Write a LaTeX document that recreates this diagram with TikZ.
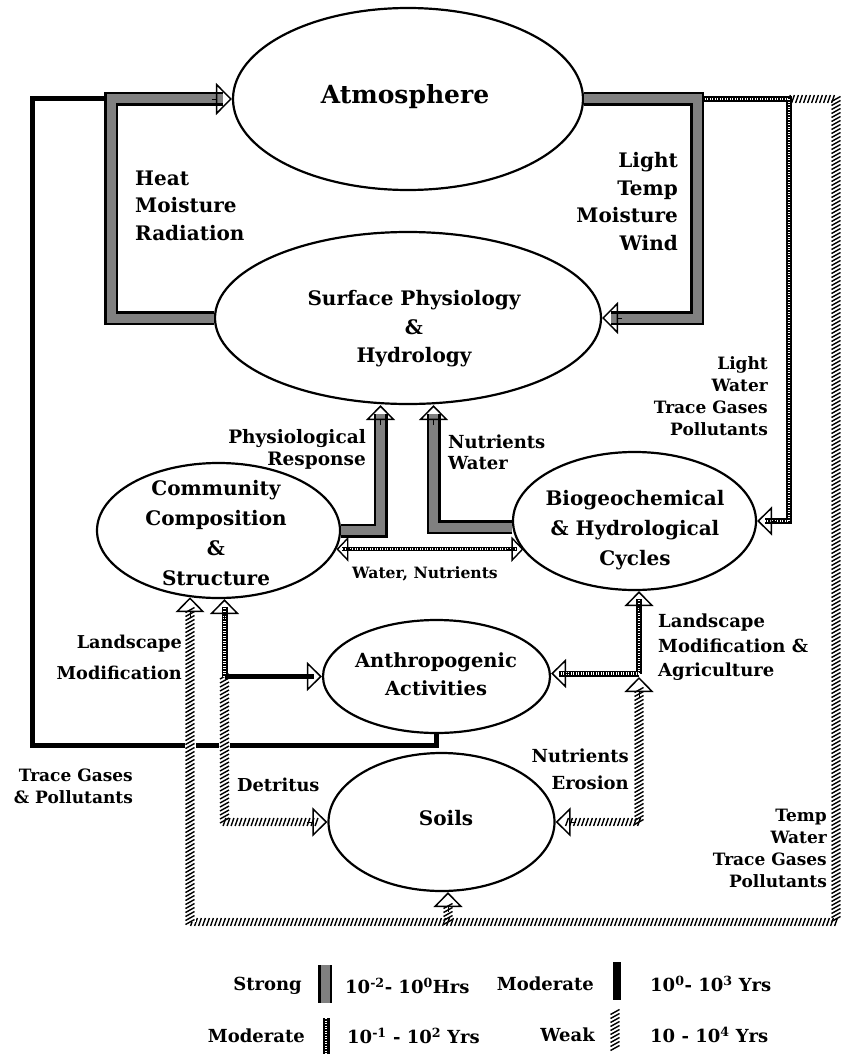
\documentclass[tikz,border=0pt]{standalone}
\usepackage{fontspec}
\setmainfont{DejaVu Serif}
\usetikzlibrary{shapes.geometric, arrows.meta, decorations.markings, calc}
\begin{document}
\begin{tikzpicture}[x=1pt,y=-1pt,
  ell/.style={ellipse, draw, line width=2.2pt, inner sep=0pt},
  big/.style={font=\fontsize{20}{29}\selectfont\bfseries, align=center, inner sep=0pt},
  mid/.style={font=\fontsize{20}{27.5}\selectfont\bfseries, inner sep=0pt},
  lab/.style={font=\fontsize{17}{22}\selectfont\bfseries, inner sep=0pt},
  leg/.style={font=\fontsize{18}{20}\selectfont\bfseries, inner sep=0pt},
  strong/.style={line width=2.5pt, double=black!50, double distance=9pt, line join=miter},
  modsolid/.style={line width=5pt, line join=miter},
  ladder/.style={line width=6pt, postaction={draw=white, line width=2.6pt, dash pattern=on 0.8pt off 1.7pt}},
  wgap/.style={preaction={draw=white, line width=11pt}},
  weakh/.style={postaction={decorate, decoration={markings, mark=between positions 0 and 1 step 4pt with {\draw[line width=1.4pt] (-1.4pt,-4pt) -- (1.4pt,4pt);}}}},
  weakv/.style={postaction={decorate, decoration={markings, mark=between positions 0 and 1 step 4pt with {\draw[line width=1.4pt] (-2.5pt,4.5pt) -- (2.5pt,-4.5pt);}}}},
  tipo/.style={line width=0.1pt, -{Triangle[open, length=15pt, width=29pt, line width=1.5pt]}},
  tipbig/.style={line width=0.1pt, -{Triangle[open, length=16pt, width=32pt, line width=1.5pt]}},
  tipsm/.style={line width=0.1pt, -{Triangle[open, length=12pt, width=25pt, line width=1.4pt]}},
]
\useasboundingbox (0,0) rectangle (842,1054);

% ellipses
\node[ell, minimum width=350pt, minimum height=182pt] (atm) at (408,99) {};
\node[ell, minimum width=386pt, minimum height=172pt] (surf) at (408,318) {};
\node[ell, minimum width=243pt, minimum height=135pt] (comm) at (218.5,530.5) {};
\node[ell, minimum width=243pt, minimum height=138pt] (bio) at (634.5,521) {};
\node[ell, minimum width=227pt, minimum height=113pt] (anth) at (436.5,676.5) {};
\node[ell, minimum width=226pt, minimum height=138pt] (soil) at (441.5,822) {};

\node[big, font=\fontsize{25}{29}\selectfont\bfseries] (atmt) at (405,97) {Atmosphere};
\node[big, font=\fontsize{20}{28.5}\selectfont\bfseries] (surft) at (414,329) {Surface Physiology\\\&\\Hydrology};
\node[big, font=\fontsize{20}{29.7}\selectfont\bfseries] (commt) at (216,533) {Community\\Composition\\\&\\Structure};
\node[big, font=\fontsize{20}{30}\selectfont\bfseries] (biot) at (635,530) {Biogeochemical\\\& Hydrological\\Cycles};
\node[big, font=\fontsize{19.5}{28}\selectfont\bfseries] (antht) at (436,674) {Anthropogenic\\Activities};
\node[big] (soilt) at (446,818) {Soils};

% coordinates
\coordinate (sl) at (111,99);
\coordinate (sr) at (697,99);
\coordinate (lr1) at (789,99);
\coordinate (wk1) at (836,99);
\coordinate (wk2) at (836,922);
\coordinate (wl) at (190,922);
\coordinate (wsb) at (448,922);
\coordinate (tgA) at (32,745);
\coordinate (tgB) at (32,99);
\coordinate (pr) at (380.5,530.5);
\coordinate (nw) at (433.5,528);
\coordinate (J1) at (224.5,676.5);
\coordinate (J2) at (639,673.5);
\coordinate (J2t) at (639,677);
\coordinate (cR) at (639,822);

% trace gases & pollutants (moderate, solid)
\draw[modsolid] (anth.south) |- (tgA) -- (tgB) -- (sl);

% weak loop
\path[weakh] (lr1) -- (wk1);
\path[weakv] (wk1) -- (wk2);
\path[weakh] (wk2) -- (wl);
\path[weakv, wgap] (wl) -- ($(wl |- comm.-113)+(0,10)$);
\draw[tipo] ($(wl |- comm.-113)+(0,20)$) -- (wl |- comm.-113);
\path[weakv] (wsb) -- ($(wsb |- soil.south)+(0,10)$);
\draw[tipo] ($(wsb |- soil.south)+(0,20)$) -- (wsb |- soil.south);

% detritus
\path[weakv, wgap] (J1) -- (J1 |- soil.west);
\path[weakh] (J1 |- soil.west) -- ($(soil.west)+(-8,0)$);
\draw[tipo] ($(soil.west)+(-20,0)$) -- (soil.west);

% nutrients erosion
\path[weakv] (cR) -- ($(J2t)+(0,10)$);
\draw[tipo] ($(J2t)+(0,20)$) -- (J2t);
\path[weakh] (cR) -- ($(soil.east)+(8,0)$);
\draw[tipo] ($(soil.east)+(20,0)$) -- (soil.east);

% landscape modification (left)
\draw[ladder] (J1) -- ($(J1 |- comm.south)+(0,8)$);
\draw[tipo] ($(J1 |- comm.south)+(0,20)$) -- (J1 |- comm.south);
\draw[modsolid] (J1) -- ($(anth.west)+(-8,0)$);
\draw[tipo] ($(anth.west)+(-20,0)$) -- (anth.west);

% landscape modification & agriculture (right)
\draw[ladder] (J2) -- ($(J2 |- bio.south)+(0,8)$);
\draw[tipo] ($(J2 |- bio.south)+(0,20)$) -- (J2 |- bio.south);
\draw[ladder] (J2) -- ($(J2 -| anth.east)+(8,0)$);
\draw[tipo] ($(J2 -| anth.east)+(20,0)$) -- (J2 -| anth.east);

% light water trace gases pollutants
\draw[ladder] (sr) -- (lr1) -- (lr1 |- bio.east) -- ($(bio.east)+(8,0)$);
\draw[tipo] ($(bio.east)+(20,0)$) -- (bio.east);

% water, nutrients
\coordinate (wnL) at (comm.-9.5);
\coordinate (wnR) at (wnL -| bio.195);
\draw[ladder, line width=4.5pt] ($(wnL)+(6,0)$) -- ($(wnR)+(-6,0)$);
\draw[tipsm] ($(wnL)+(16,0)$) -- (wnL);
\draw[tipsm] ($(wnR)+(-16,0)$) -- (wnR);

% strong connectors
\draw[strong] (surf.west) -| (sl) -- ($(atm.west)+(-9,0)$);
\draw[tipbig] ($(atm.west)+(-20,0)$) -- (atm.west);
\draw[strong] (atm.east) -- (sr) -- (sr |- surf.east) -- ($(surf.east)+(9,0)$);
\draw[tipbig] ($(surf.east)+(20,0)$) -- (surf.east);
\draw[strong] (comm.east) -| ($(pr |- surf.south)+(0,9)$);
\draw[tipo] ($(pr |- surf.south)+(0,20)$) -- (pr |- surf.south);
\draw[strong] (bio.183) -| ($(nw |- surf.south)+(0,9)$);
\draw[tipo] ($(nw |- surf.south)+(0,20)$) -- (nw |- surf.south);

% labels
\node[mid, anchor=west, align=left] (heat) at (135,205.5) {Heat\\Moisture\\Radiation};
\node[mid, anchor=east, align=right] (light) at (678,201.5) {Light\\Temp\\Moisture\\Wind};
\node[lab, anchor=east, align=right] (lwtp) at (768,396) {Light\\Water\\Trace Gases\\Pollutants};
\node[lab, anchor=east, align=right, font=\fontsize{18.5}{22}\selectfont\bfseries] (phys) at (366,449) {Physiological\\Response};
\node[lab, anchor=west, align=left, font=\fontsize{18}{21}\selectfont\bfseries] (nutw) at (448,452) {Nutrients\\Water};
\node[lab, font=\fontsize{15.6}{20}\selectfont\bfseries] (wn) at (425,574) {Water, Nutrients};
\node[lab, anchor=east, align=right, font=\fontsize{17.7}{31}\selectfont\bfseries] (landl) at (182,657.5) {Landscape\\Modification};
\node[lab, anchor=west, align=left, font=\fontsize{18}{24.5}\selectfont\bfseries] (landr) at (658,647.5) {Landscape\\Modification \&\\Agriculture};
\node[lab, anchor=east, align=right] (tgp) at (133,786) {Trace Gases\\\& Pollutants};
\node[lab, anchor=west, font=\fontsize{17.8}{22}\selectfont\bfseries] (detr) at (237,785) {Detritus};
\node[lab, anchor=east, align=right, font=\fontsize{18}{27}\selectfont\bfseries] (ne) at (629,769) {Nutrients\\Erosion};
\node[lab, anchor=east, align=right] (twtp) at (827,848.5) {Temp\\Water\\Trace Gases\\Pollutants};

% legend
\coordinate (s1a) at (325,965); \coordinate (s1b) at (325,1003);
\coordinate (s2a) at (617,962); \coordinate (s2b) at (617,1000);
\coordinate (s3a) at (326,1018); \coordinate (s3b) at (326,1054);
\coordinate (s4a) at (615,1012); \coordinate (s4b) at (615,1050);
\draw[strong] (s1a) -- (s1b);
\draw[line width=8pt] (s2a) -- (s2b);
\draw[ladder, line width=7pt] (s3a) -- (s3b);
\path[weakv] (s4a) -- (s4b);
\node[leg, anchor=east] (l1) at (302,986) {Strong};
\node[leg, anchor=west] (l1t) at (345,986) {10\textsuperscript{-2}- 10\textsuperscript{0}Hrs};
\node[leg, anchor=east] (l2) at (594,984) {Moderate};
\node[leg, anchor=west] (l2t) at (650,984) {10\textsuperscript{0}- 10\textsuperscript{3} Yrs};
\node[leg, anchor=east] (l3) at (305,1036) {Moderate};
\node[leg, anchor=west] (l3t) at (347,1036) {10\textsuperscript{-1} - 10\textsuperscript{2} Yrs};
\node[leg, anchor=east] (l4) at (595,1035) {Weak};
\node[leg, anchor=west] (l4t) at (650,1035) {10 - 10\textsuperscript{4} Yrs};
\end{tikzpicture}
\end{document}
